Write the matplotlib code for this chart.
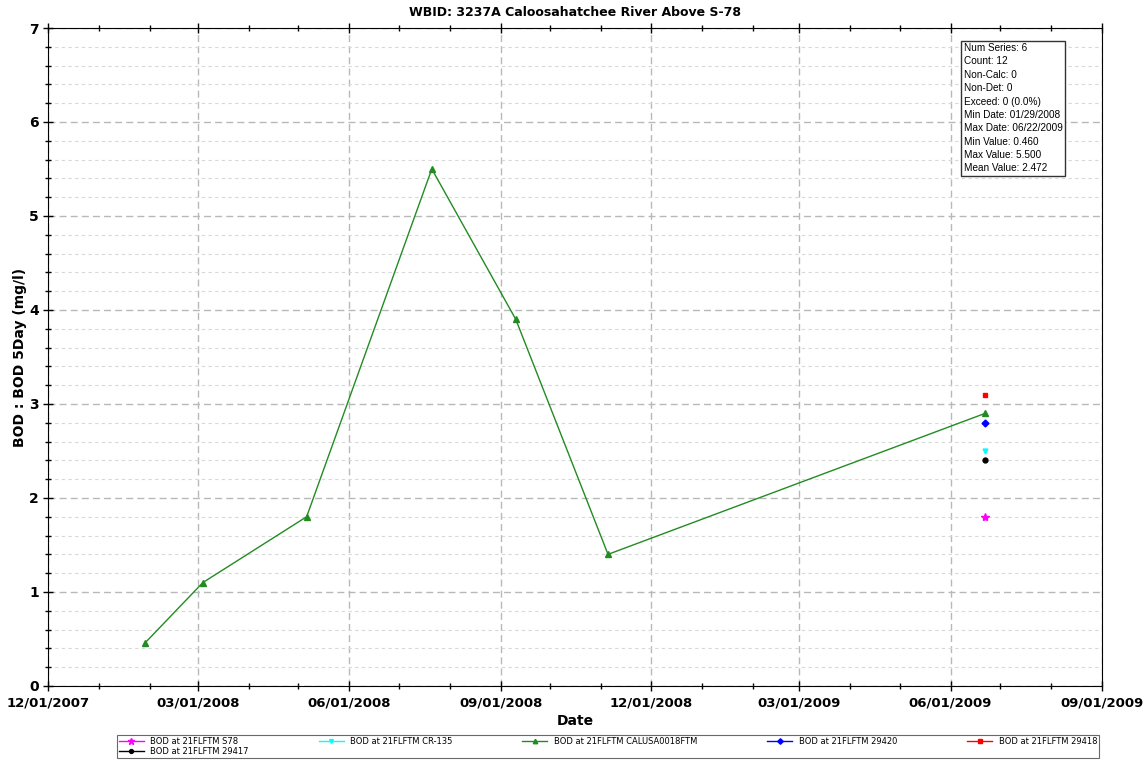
import numpy as np
import matplotlib
matplotlib.use('Agg')
import matplotlib.pyplot as plt
import matplotlib.dates as mdates
from matplotlib.ticker import MultipleLocator
from datetime import datetime

# 数据
green_dates = ['2008-01-29', '2008-03-04', '2008-05-06', '2008-07-21',
               '2008-09-10', '2008-11-05', '2009-06-22']
green_vals = [0.46, 1.1, 1.8, 5.5, 3.9, 1.4, 2.9]

single_date = '2009-06-22'
single_names = ['BOD at 21FLFTM S78', 'BOD at 21FLFTM CR-135', 'BOD at 21FLFTM 29420',
                'BOD at 21FLFTM 29418', 'BOD at 21FLFTM 29417']
single_vals = [1.8, 2.5, 2.8, 3.1, 2.4]
single_colors = ['#ff00ff', '#00ffff', '#0000ff', '#ff0000', '#000000']
single_markers = ['*', 'v', 'D', 's', 'o']

stats_text = ("Num Series: 6\nCount: 12\nNon-Calc: 0\nNon-Det: 0\nExceed: 0 (0.0%)\n"
              "Min Date: 01/29/2008\nMax Date: 06/22/2009\nMin Value: 0.460\n"
              "Max Value: 5.500\nMean Value: 2.472")

to_dt = lambda s: datetime.strptime(s, '%Y-%m-%d')

fig = plt.figure(figsize=(11.45, 7.63), dpi=100)
ax = fig.add_axes([0.042, 0.101, 0.9205, 0.8623])

handles = {}
# 单点系列
for name, v, c, m in zip(single_names, single_vals, single_colors, single_markers):
    ms = 6 if m == '*' else 3.5
    h, = ax.plot([to_dt(single_date)], [v], linestyle='-', color=c, marker=m,
                 markersize=ms, linewidth=1, label=name)
    handles[name] = h

# 绿色折线
hg, = ax.plot([to_dt(d) for d in green_dates], green_vals, color='#228B22',
              marker='^', markersize=4, linewidth=1,
              label='BOD at 21FLFTM CALUSA0018FTM')

# 图例按列填充，所以重新排序让它看起来按行排
order = [handles[single_names[0]], handles[single_names[4]],
         handles[single_names[1]], hg,
         handles[single_names[2]], handles[single_names[3]]]

ax.set_xlim(datetime(2007, 12, 1), datetime(2009, 9, 1))
ax.set_ylim(0, 7)
ax.xaxis.set_major_locator(mdates.MonthLocator(bymonth=[3, 6, 9, 12]))
ax.xaxis.set_minor_locator(mdates.MonthLocator())
ax.xaxis.set_major_formatter(mdates.DateFormatter('%m/%d/%Y'))
ax.yaxis.set_major_locator(MultipleLocator(1))
ax.yaxis.set_minor_locator(MultipleLocator(0.2))

ax.grid(which='major', axis='both', color='#b8b8b8', linestyle=(0, (5, 3)), linewidth=1)
ax.grid(which='minor', axis='y', color='#d8d8d8', linestyle=(0, (3, 3)), linewidth=0.8)
ax.set_axisbelow(True)

ax.tick_params(which='both', direction='inout', top=True, right=False)
ax.tick_params(axis='x', labelsize=9.5, pad=4)
ax.tick_params(axis='y', labelsize=10, pad=3)
ax.tick_params(which='major', length=7, width=1)
ax.tick_params(which='minor', length=4, width=1)
for lbl in ax.get_xticklabels() + ax.get_yticklabels():
    lbl.set_fontweight('bold')

ax.set_xlabel('Date', fontsize=10, fontweight='bold', labelpad=3)
ax.set_ylabel('BOD : BOD 5Day (mg/l)', fontsize=10, fontweight='bold', labelpad=2)
ax.set_title('WBID: 3237A Caloosahatchee River Above S-78', fontsize=9,
             fontweight='bold', pad=9)

ax.text(0.869, 0.977, stats_text, transform=ax.transAxes, va='top', ha='left',
        fontsize=7.2, family='Liberation Sans', linespacing=1.42,
        bbox=dict(boxstyle='square,pad=0.25', facecolor='white', edgecolor='#333333'))

leg = fig.legend(handles=order, loc='lower left', ncol=5, fontsize=6,
                 bbox_to_anchor=(113 / 1145, 0.001, 990 / 1145, 0.033), mode='expand',
                 frameon=True, fancybox=False, edgecolor='#444444', handlelength=3,
                 borderpad=0.2, labelspacing=0.15, markerscale=0.8)
leg.get_frame().set_linewidth(0.8)

fig.savefig('out.png', dpi=100)
